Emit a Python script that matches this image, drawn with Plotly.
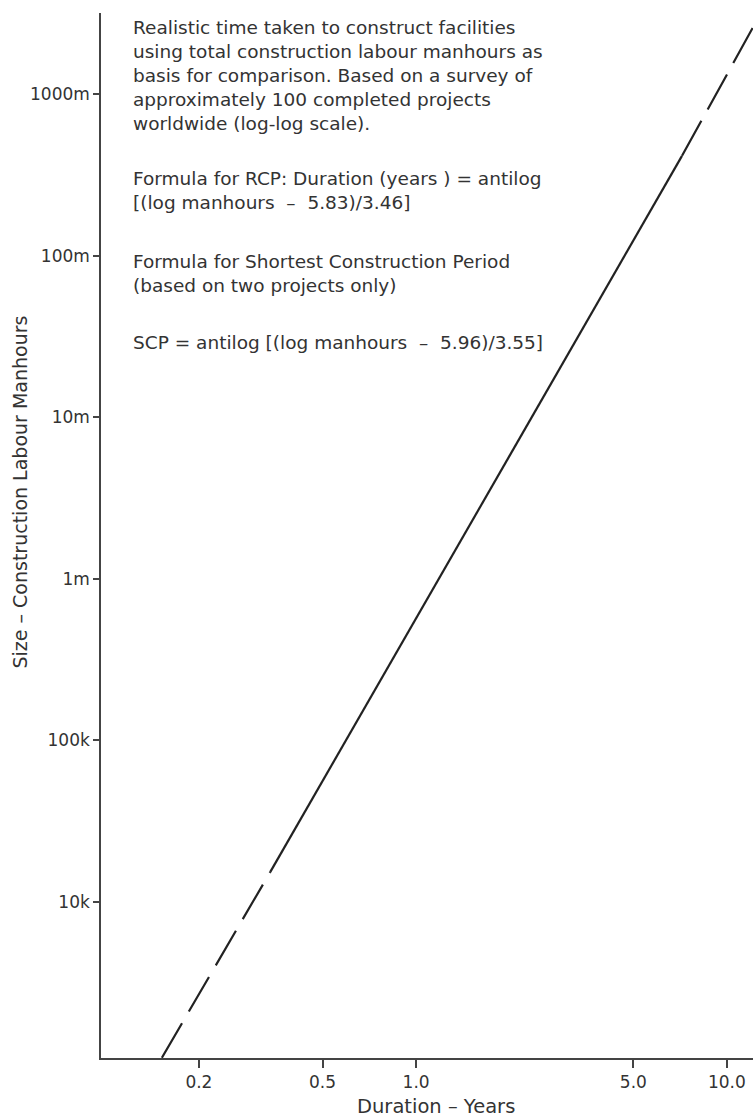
import plotly.graph_objects as go

# ---- data ----
duration_years = [0.152, 0.3395, 7.17, 12.1]      # line break points (x)
manhours = [1080, 15300, 4.15e8, 2.57e9]          # line break points (y)

x_tick_vals = [0.2, 0.5, 1.0, 5.0, 10.0]
x_tick_text = ["0.2", "0.5", "1.0", "5.0", "10.0"]
y_tick_vals = [1e4, 1e5, 1e6, 1e7, 1e8, 1e9]
y_tick_text = ["10k", "100k", "1m", "10m", "100m", "1000m"]

note_paragraphs = [
    "Realistic time taken to construct facilities<br>"
    "using total construction labour manhours as<br>"
    "basis for comparison. Based on a survey of<br>"
    "approximately 100 completed projects<br>"
    "worldwide (log-log scale).",
    "Formula for RCP: Duration (years\u00a0) = antilog<br>"
    "[(log manhours\u00a0 \u2013\u00a0 5.83)/3.46]",
    "Formula for Shortest Construction Period<br>"
    "(based on two projects only)",
    "SCP = antilog [(log manhours\u00a0 \u2013\u00a0 5.96)/3.55]",
]

x_title = "Duration \u2013 Years"
y_title = "Size \u2013 Construction Labour Manhours"

# ---- layout constants ----
W, H = 753, 1119
ML, MR, MT, MB = 101, 0, 13, 61
PW = W - ML - MR
PH = H - MT - MB
FONT = "DejaVu Sans"
LINE_COLOR = "#222222"
AXIS_COLOR = "#444444"
TEXT_COLOR = "#333333"


def px_to_paper_x(px):
    return (px - ML) / PW


def px_to_paper_y(py):
    return (H - MB - py) / PH


fig = go.Figure()

segments = [
    (duration_years[0:2], manhours[0:2], "40px,13.5px"),
    (duration_years[1:3], manhours[1:3], "solid"),
    (duration_years[3:1:-1], manhours[3:1:-1], "40px,13px"),
]
for xs, ys, dash in segments:
    fig.add_trace(go.Scatter(
        x=xs, y=ys, mode="lines",
        line=dict(color=LINE_COLOR, width=2.2, dash=dash),
        showlegend=False, hoverinfo="skip",
    ))

fig.update_xaxes(
    type="log", range=[-1.014, 1.084],
    tickvals=x_tick_vals, ticktext=x_tick_text,
    showgrid=False, zeroline=False,
    showline=True, linecolor=AXIS_COLOR, linewidth=1.5,
    ticks="outside", ticklen=8, tickwidth=1.5, tickcolor=AXIS_COLOR,
    tickfont=dict(family=FONT, size=17, color=TEXT_COLOR),
)
fig.update_yaxes(
    type="log", range=[3.032, 9.503],
    tickvals=y_tick_vals, ticktext=y_tick_text,
    showgrid=False, zeroline=False,
    showline=True, linecolor=AXIS_COLOR, linewidth=1.5,
    ticks="outside", ticklen=6, tickwidth=1.5, tickcolor=AXIS_COLOR,
    tickfont=dict(family=FONT, size=17, color=TEXT_COLOR),
)

annotations = []
para_tops = [15, 166, 249, 330]
for text, top in zip(note_paragraphs, para_tops):
    annotations.append(dict(
        text=text, xref="paper", yref="paper",
        x=px_to_paper_x(131), y=px_to_paper_y(top),
        xanchor="left", yanchor="top", align="left", showarrow=False,
        font=dict(family=FONT, size=18.5, color=TEXT_COLOR),
    ))

annotations.append(dict(
    text=x_title, xref="paper", yref="paper",
    x=px_to_paper_x(435.5), y=px_to_paper_y(1093),
    xanchor="center", yanchor="top", showarrow=False,
    font=dict(family=FONT, size=19.5, color=TEXT_COLOR),
))
annotations.append(dict(
    text=y_title, xref="paper", yref="paper",
    x=px_to_paper_x(20), y=px_to_paper_y(492.5),
    xanchor="center", yanchor="middle", textangle=-90, showarrow=False,
    font=dict(family=FONT, size=19, color=TEXT_COLOR),
))

fig.update_layout(
    width=W, height=H, autosize=False,
    margin=dict(l=ML, r=MR, t=MT, b=MB, pad=0),
    paper_bgcolor="white", plot_bgcolor="white",
    annotations=annotations,
    font=dict(family=FONT, color=TEXT_COLOR),
)

fig.write_html(
    "out.html",
    config={"displayModeBar": False},
    post_script="document.body.style.margin='0';"
                "document.body.style.overflow='hidden';",
)
